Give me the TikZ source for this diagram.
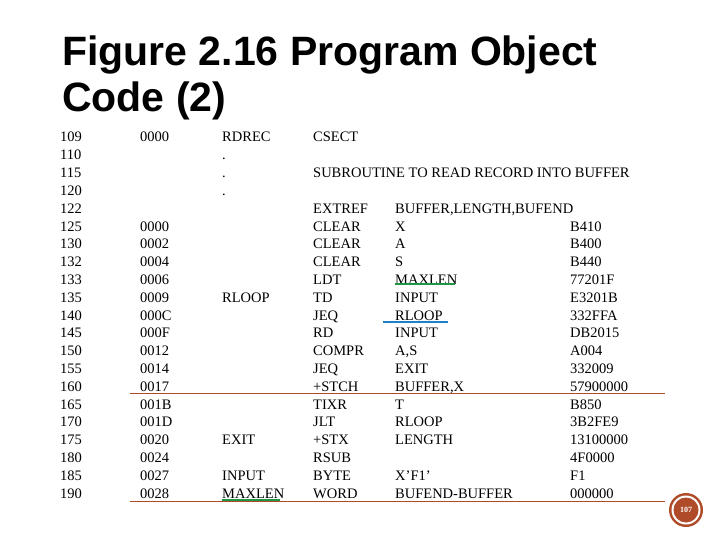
\documentclass[tikz,border=0pt]{standalone}
\usepackage{fontspec}
\setmainfont{Liberation Serif}
\setsansfont{Liberation Sans}
\definecolor{brn}{RGB}{175,75,40}
\definecolor{grn}{RGB}{30,150,70}
\definecolor{blu}{RGB}{30,130,200}
\begin{document}
\begin{tikzpicture}[x=1pt,y=-1pt,
  code/.style={anchor=base west,inner sep=0pt,font=\fontsize{14.5}{15}\selectfont},
  ttl/.style={anchor=west,inner sep=0pt,font=\sffamily\bfseries\fontsize{41}{43}\selectfont}]
\useasboundingbox (0,0) rectangle (720,540);
\fill[white] (0,0) rectangle (720,540);
\node[ttl] (t1) at (62,55) {Figure 2.16 Program Object};
\node[ttl] (t2) at (62,101) {Code (2)};
\def\rows{{109/0000/RDREC/CSECT/{}/{}},
{110/{}/./{}/{}/{}},
{115/{}/./SUBROUTINE TO READ RECORD INTO BUFFER/{}/{}},
{120/{}/./{}/{}/{}},
{122/{}/{}/EXTREF/BUFFER,LENGTH,BUFEND/{}},
{125/0000/{}/CLEAR/X/B410},
{130/0002/{}/CLEAR/A/B400},
{132/0004/{}/CLEAR/S/B440},
{133/0006/{}/LDT/MAXLEN/77201F},
{135/0009/RLOOP/TD/INPUT/E3201B},
{140/000C/{}/JEQ/RLOOP/332FFA},
{145/000F/{}/RD/INPUT/DB2015},
{150/0012/{}/COMPR/A,S/A004},
{155/0014/{}/JEQ/EXIT/332009},
{160/0017/{}/+STCH/BUFFER,X/57900000},
{165/001B/{}/TIXR/T/B850},
{170/001D/{}/JLT/RLOOP/3B2FE9},
{175/0020/EXIT/+STX/LENGTH/13100000},
{180/0024/{}/RSUB/{}/4F0000},
{185/0027/INPUT/BYTE/X'F1'/F1},
{190/0028/MAXLEN/WORD/BUFEND-BUFFER/000000}}
\foreach [count=\i] \n/\l/\lab/\op/\opd/\obj in \rows {
  \pgfmathsetmacro{\yy}{142+(\i-1)*17.8}
  \node[code] (n\i) at (60,\yy) {\n};
  \node[code] (l\i) at (140,\yy) {\l};
  \node[code] (b\i) at (222,\yy) {\lab};
  \node[code] (o\i) at (313,\yy) {\op};
  \node[code] (d\i) at (395,\yy) {\opd};
  \node[code] (c\i) at (570,\yy) {\obj};
}
\draw[brn,line width=0.9pt] (130,393) -- (665,393);
\draw[brn,line width=0.9pt] (130,501) -- (665,501);
\draw[grn,line width=1.8pt] (395,284) -- (455,284);
\draw[grn,line width=1.8pt] (222,500) -- (280,500);
\draw[blu,line width=1.8pt] (383,322) -- (448,322);
\fill[brn] (686,510) circle (17);
\fill[white] (686,510) circle (14.5);
\fill[brn] (686,510) circle (12.5);
\node[text=white,font=\bfseries\fontsize{8}{9}\selectfont] (pg) at (686,510) {107};
\end{tikzpicture}
\end{document}
